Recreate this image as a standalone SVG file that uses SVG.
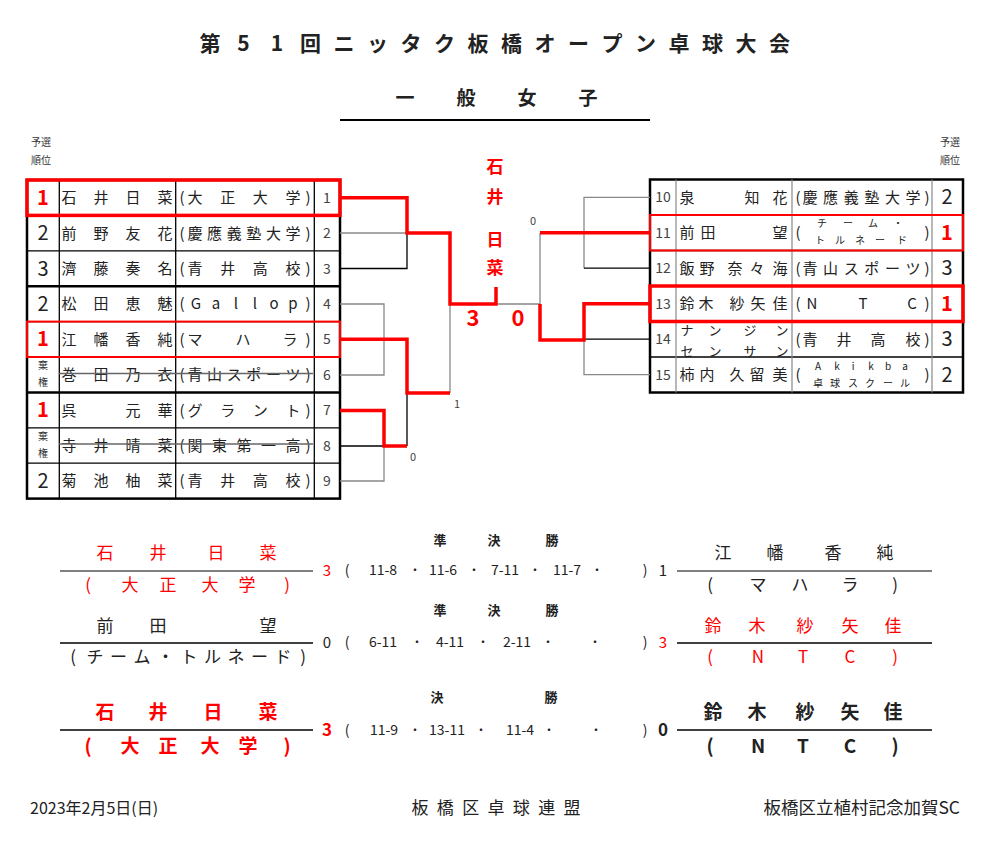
<svg xmlns="http://www.w3.org/2000/svg" width="992" height="847" viewBox="0 0 992 847">
<style>
text{font-family:"Noto Sans CJK JP","Noto Sans",sans-serif;fill:#222}
.c{text-anchor:middle}
.b{font-weight:bold}
.r{fill:#ff0000}
.s15{font-size:15px}
.s14{font-size:14px}
.s10{font-size:10px}
.gl{fill:#333}
.thin{stroke:#000;stroke-width:1.3;fill:none}
.gray{stroke:#888;stroke-width:1.3;fill:none}
.gcol{stroke:#888;stroke-width:1.2;fill:none}
.red{stroke:#ff0000;stroke-width:3.5;fill:none}
.redt{stroke:#ff0000;stroke-width:2;fill:none}
.border{stroke:#000;stroke-width:2.5;fill:none}
.strike{stroke:#666;stroke-width:1.5}
.rank{font-size:20px}
.seed{font-size:14px;fill:#444}
.lab{font-size:11px;fill:#444}
.sc{font-size:14px;text-anchor:middle}
.dot{font-size:12px;text-anchor:middle}
</style>

<g id="header">
<text class="c b" style="font-size:21px" y="51" x="210 243.5 277 310.5 344 377.5 411 444.5 478 511.5 545 578.5 612 645.5 679 712.5 746 779.5">第51回ニッタク板橋オープン卓球大会</text>
<text class="c b" style="font-size:19px" y="105" x="405 466 527 588">一般女子</text>
<line x1="340" y1="120" x2="650" y2="120" stroke="#000" stroke-width="2"/>
<text class="c s10 gl" x="41" y="146">予選</text>
<text class="c s10 gl" x="41" y="164">順位</text>
<text class="c s10 gl" x="950" y="146">予選</text>
<text class="c s10 gl" x="950" y="164">順位</text>
</g>

<g id="left-table">
<rect x="27" y="180" width="313" height="318.6" class="border"/>
<g class="thin">
<line x1="27" y1="215.4" x2="340" y2="215.4"/>
<line x1="27" y1="250.8" x2="340" y2="250.8"/>
<line x1="27" y1="321.6" x2="340" y2="321.6"/>
<line x1="27" y1="357" x2="340" y2="357"/>
<line x1="27" y1="427.8" x2="340" y2="427.8"/>
<line x1="27" y1="463.2" x2="340" y2="463.2"/>
<line x1="59.3" y1="180" x2="59.3" y2="498.6"/>
<line x1="175.7" y1="180" x2="175.7" y2="498.6"/>
<line x1="314.3" y1="180" x2="314.3" y2="498.6"/>
</g>
<line x1="27" y1="286.2" x2="340" y2="286.2" stroke="#000" stroke-width="2.5"/>
<line x1="27" y1="392.4" x2="340" y2="392.4" stroke="#000" stroke-width="2.5"/>
</g>

<g id="L1">
<text class="c b r rank" x="43" y="204.7">1</text>
<text class="c s15" y="203.2" x="69 101 133 165">石井日菜</text>
<text class="c s15" y="203.2" x="182 195 227.7 260.3 293 308">(大正大学)</text>
<text class="c seed" x="327" y="202.7">1</text>
<rect x="27" y="180" width="313" height="35.4" class="red" stroke-width="3"/>
</g>
<g id="L2">
<text class="c rank" x="43" y="240.1">2</text>
<text class="c s15" y="238.6" x="69 101 133 165">前野友花</text>
<text class="c s15" y="238.6" x="182 195 214.6 234.2 253.8 273.4 293 308">(慶應義塾大学)</text>
<text class="c seed" x="327" y="238.1">2</text>
</g>
<g id="L3">
<text class="c rank" x="43" y="275.5">3</text>
<text class="c s15" y="274" x="69 101 133 165">濟藤奏名</text>
<text class="c s15" y="274" x="182 195 227.7 260.3 293 308">(青井高校)</text>
<text class="c seed" x="327" y="273.5">3</text>
</g>
<g id="L4">
<text class="c rank" x="43" y="310.9">2</text>
<text class="c s15" y="309.4" x="69 101 133 165">松田恵魅</text>
<text class="c s15" y="309.4" x="182 196 216 236 255 274 293 308">(Gallop)</text>
<text class="c seed" x="327" y="308.9">4</text>
</g>
<g id="L5">
<text class="c b r rank" x="43" y="346.3">1</text>
<text class="c s15" y="344.8" x="69 101 133 165">江幡香純</text>
<text class="c s15" y="344.8" x="182 195 243 290 308">(マハラ)</text>
<text class="c seed" x="327" y="344.3">5</text>
<rect x="27" y="321.6" width="313" height="35.4" class="redt"/>
</g>
<g id="L6">
<text class="c s10 gl" x="43" y="369">棄</text>
<text class="c s10 gl" x="43" y="386">権</text>
<text class="c s15" y="380.2" x="69 101 133 165">巻田乃衣</text>
<text class="c s15" y="380.2" x="182 195 214.6 234.2 253.8 273.4 293 308">(青山スポーツ)</text>
<text class="c seed" x="327" y="379.7">6</text>
<line x1="59" y1="373.5" x2="313" y2="373.5" class="strike"/>
</g>
<g id="L7">
<text class="c b r rank" x="43" y="417.1">1</text>
<text class="c s15" y="415.6" x="69 133 165">呉元華</text>
<text class="c s15" y="415.6" x="182 195 227.7 260.3 293 308">(グラント)</text>
<text class="c seed" x="327" y="415.1">7</text>
</g>
<g id="L8">
<text class="c s10 gl" x="43" y="440">棄</text>
<text class="c s10 gl" x="43" y="457">権</text>
<text class="c s15" y="451" x="69 101 133 165">寺井晴菜</text>
<text class="c s15" y="451" x="182 195 219.5 244 268.5 293 308">(関東第一高)</text>
<text class="c seed" x="327" y="450.5">8</text>
<line x1="59" y1="444" x2="313" y2="444" class="strike"/>
</g>
<g id="L9">
<text class="c rank" x="43" y="487.9">2</text>
<text class="c s15" y="486.4" x="69 101 133 165">菊池柚菜</text>
<text class="c s15" y="486.4" x="182 195 227.7 260.3 293 308">(青井高校)</text>
<text class="c seed" x="327" y="485.9">9</text>
</g>

<g id="right-table">
<rect x="650" y="179.5" width="313" height="213" class="border"/>
<g class="thin">
<line x1="650" y1="215" x2="963" y2="215"/>
<line x1="650" y1="250.5" x2="963" y2="250.5"/>
<line x1="650" y1="286" x2="963" y2="286"/>
<line x1="650" y1="321.5" x2="963" y2="321.5"/>
<line x1="650" y1="357" x2="963" y2="357"/>
</g>
<g class="gcol">
<line x1="676" y1="179.5" x2="676" y2="392.5"/>
<line x1="792" y1="179.5" x2="792" y2="392.5"/>
<line x1="932" y1="179.5" x2="932" y2="392.5"/>
</g>
</g>

<g id="R10">
<text class="c seed" x="663" y="202.3">10</text>
<text class="c s15" y="202.8" x="687 752 780">泉知花</text>
<text class="c s15" y="202.8" x="798 810 830.6 851.2 871.8 892.4 913 927">(慶應義塾大学)</text>
<text class="c rank" x="947" y="204.3">2</text>
</g>
<g id="R11">
<text class="c seed" x="663" y="237.7">11</text>
<text class="c s15" y="238.2" x="687 708 780">前田望</text>
<text class="c s15" y="238.2" x="798">(</text>
<text class="c s15" y="238.2" x="927">)</text>
<text class="c s10" y="226.5" x="822 848 873 898">チーム・</text>
<text class="c s10" y="244" x="820 840 860 880 902">トルネード</text>
<text class="c b r rank" x="947" y="239.7">1</text>
<rect x="650" y="215" width="313" height="35.5" class="redt"/>
</g>
<g id="R12">
<text class="c seed" x="663" y="273.2">12</text>
<text class="c s15" y="273.7" x="687 707 735 757 780">飯野奈々海</text>
<text class="c s15" y="273.7" x="798 810 830.6 851.2 871.8 892.4 913 927">(青山スポーツ)</text>
<text class="c rank" x="947" y="275.2">3</text>
</g>
<g id="R13">
<text class="c seed" x="663" y="308.7">13</text>
<text class="c s15" y="309.2" x="687 706 737 758 780">鈴木紗矢佳</text>
<text class="c s15" y="309.2" x="798 812 863 912 927">(NTC)</text>
<text class="c b r rank" x="947" y="310.7">1</text>
<rect x="650" y="286" width="313" height="35.5" class="red" stroke-width="3"/>
</g>
<g id="R14">
<text class="c seed" x="663" y="344.2">14</text>
<text class="c" style="font-size:13px" y="334.5" x="687 715 750 782">ナンジン</text>
<text class="c" style="font-size:13px" y="355.5" x="687 715 750 782">センサン</text>
<text class="c s15" y="344.7" x="798 810 844 878 913 927">(青井高校)</text>
<text class="c rank" x="947" y="346.2">3</text>
</g>
<g id="R15">
<text class="c seed" x="663" y="379.7">15</text>
<text class="c s15" y="380.2" x="687 707 737 757 780">柿内久留美</text>
<text class="c s15" y="380.2" x="798">(</text>
<text class="c s15" y="380.2" x="927">)</text>
<text class="c s10" y="370" x="818 837 853 871 888 905">Akikba</text>
<text class="c s10" y="387" x="818 835 853 870 888 905">卓球スクール</text>
<text class="c rank" x="947" y="381.7">2</text>
</g>

<g id="connectors">
<path class="gray" d="M340,233 H407"/>
<path class="thin" d="M340,268.5 H407 V233"/>
<path class="gray" d="M340,304 H384 V375 H340"/>
<path class="gray" d="M450,304 V393"/>
<path class="thin" d="M407,393 V446"/>
<path class="thin" d="M340,446 H384"/>
<path class="gray" d="M340,481 H384 V446"/>
<path class="gray" d="M496,304 H540 M540,233 V304"/>
<path class="gray" d="M650,197.3 H584 V268.2"/>
<path class="thin" d="M650,268.2 H584"/>
<path class="thin" d="M650,339.2 H584"/>
<path class="gray" d="M650,374.7 H584 V339.2"/>
<path class="red" d="M340,197.7 H407 V233 H450 V304 H496 V287"/>
<path class="red" d="M340,339.3 H407 V393 H450"/>
<path class="red" d="M340,410.5 H384 V446 H407"/>
<path class="red" d="M650,232.7 H540"/>
<path class="red" d="M540,304 V340 H584 V303.7 H650"/>
</g>

<g id="bracket-labels">
<text class="c b r" style="font-size:17px" x="495" y="173">石</text>
<text class="c b r" style="font-size:17px" x="495" y="203">井</text>
<text class="c b r" style="font-size:17px" x="495" y="246">日</text>
<text class="c b r" style="font-size:17px" x="495" y="274">菜</text>
<text class="c b r" style="font-size:22px" x="473" y="326">3</text>
<text class="c b r" style="font-size:22px" x="518" y="326">0</text>
<text class="c lab" x="533" y="225">0</text>
<text class="c lab" x="457" y="408">1</text>
<text class="c lab" x="413" y="461">0</text>
</g>

<g id="semi1">
<text class="c b" style="font-size:13px" y="545" x="440 494 552">準決勝</text>
<text class="c r" style="font-size:17px" y="559" x="105 158 216 268">石井日菜</text>
<line x1="60" y1="571" x2="313" y2="571" stroke="#555" stroke-width="1.3"/>
<text class="c r" style="font-size:17px" y="591" x="88 130 168 210 247 287">(大正大学)</text>
<text class="c r" style="font-size:15px" x="327" y="576">3</text>
<text class="sc" y="575" x="347">(</text>
<text class="sc" y="575" x="383">11-8</text>
<text class="dot" y="575" x="415">・</text>
<text class="sc" y="575" x="443">11-6</text>
<text class="dot" y="575" x="474">・</text>
<text class="sc" y="575" x="505">7-11</text>
<text class="dot" y="575" x="535">・</text>
<text class="sc" y="575" x="567">11-7</text>
<text class="dot" y="575" x="597">・</text>
<text class="sc" y="575" x="645">)</text>
<text class="c" style="font-size:15px" x="663" y="576">1</text>
<line x1="677" y1="571" x2="932" y2="571" stroke="#555" stroke-width="1.3"/>
<text class="c" style="font-size:17px" y="559" x="723 775 833 885">江幡香純</text>
<text class="c" style="font-size:17px" y="591" x="710 758 800 850 895">(マハラ)</text>
</g>

<g id="semi2">
<text class="c b" style="font-size:13px" y="615" x="440 494 552">準決勝</text>
<text class="c" style="font-size:17px" y="632" x="105 158 268">前田望</text>
<line x1="60" y1="643" x2="313" y2="643" stroke="#000" stroke-width="1.3"/>
<text class="c" style="font-size:17px" y="663" x="73 95 118.5 142 165.5 189 212.5 236 259.5 283 303">(チーム・トルネード)</text>
<text class="c" style="font-size:15px" x="327" y="648">0</text>
<text class="sc" y="647" x="347">(</text>
<text class="sc" y="647" x="383">6-11</text>
<text class="dot" y="647" x="417">・</text>
<text class="sc" y="647" x="450">4-11</text>
<text class="dot" y="647" x="483">・</text>
<text class="sc" y="647" x="517">2-11</text>
<text class="dot" y="647" x="548">・</text>
<text class="dot" y="647" x="595">・</text>
<text class="sc" y="647" x="645">)</text>
<text class="c r" style="font-size:15px" x="663" y="648">3</text>
<line x1="677" y1="643" x2="932" y2="643" stroke="#000" stroke-width="1.3"/>
<text class="c r" style="font-size:17px" y="632" x="713 757 805 850 893">鈴木紗矢佳</text>
<text class="c r" style="font-size:17px" y="663" x="710 758 803 850 895">(NTC)</text>
</g>

<g id="final">
<text class="c b" style="font-size:13px" y="702" x="437 551">決勝</text>
<text class="c b r" style="font-size:19px" y="719" x="105 158 213 268">石井日菜</text>
<line x1="60" y1="730" x2="313" y2="730" stroke="#000" stroke-width="1.3"/>
<text class="c b r" style="font-size:19px" y="753" x="88 130 168 210 248 287">(大正大学)</text>
<text class="c b r" style="font-size:17px" x="327" y="736">3</text>
<text class="sc" y="735" x="347">(</text>
<text class="sc" y="735" x="384">11-9</text>
<text class="dot" y="735" x="415">・</text>
<text class="sc" y="735" x="447">13-11</text>
<text class="dot" y="735" x="481">・</text>
<text class="sc" y="735" x="520">11-4</text>
<text class="dot" y="735" x="549">・</text>
<text class="dot" y="735" x="596">・</text>
<text class="sc" y="735" x="645">)</text>
<text class="c b" style="font-size:17px" x="663" y="736">0</text>
<line x1="677" y1="730" x2="932" y2="730" stroke="#000" stroke-width="1.3"/>
<text class="c b" style="font-size:19px" y="719" x="713 757 805 850 893">鈴木紗矢佳</text>
<text class="c b" style="font-size:19px" y="753" x="710 758 803 850 895">(NTC)</text>
</g>

<g id="footer">
<text style="font-size:16px" x="30" y="814">2023年2月5日(日)</text>
<text class="c" style="font-size:17px" y="814" x="420 445.3 470.7 496 521.3 546.7 572">板橋区卓球連盟</text>
<text style="font-size:17.5px;text-anchor:end" x="960" y="814">板橋区立植村記念加賀SC</text>
</g>
</svg>
